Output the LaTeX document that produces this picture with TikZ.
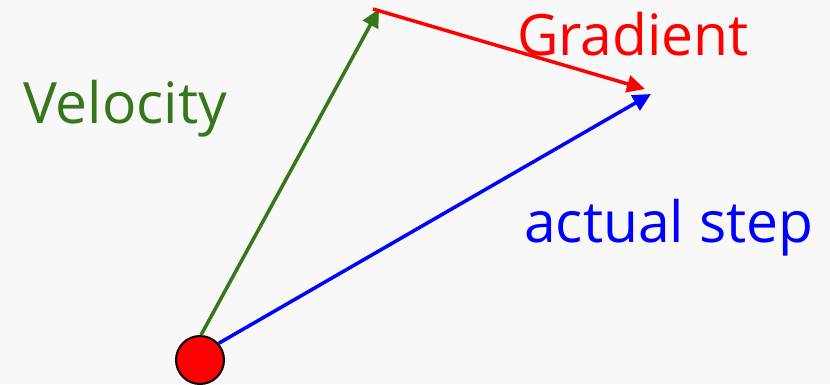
\documentclass[tikz,border=0pt]{standalone}
\usepackage{fontspec}
\setmainfont{Open Sans}
\usetikzlibrary{arrows.meta}
\definecolor{bg}{HTML}{F8F8F8}
\definecolor{vgreen}{HTML}{38761D}
\begin{document}
\begin{tikzpicture}[x=1pt,y=-1pt,
  vec/.style={line width=3.5pt,-{Triangle[length=18pt,width=17pt]}},
  lbl/.style={anchor=base west,inner sep=0pt,font=\fontsize{57}{60}\selectfont}]
\fill[bg] (0,0) rectangle (830,384);
\useasboundingbox (0,0) rectangle (830,384);
\node[circle,draw=black,line width=2pt,fill=red,minimum size=48pt,inner sep=0pt] (ball) at (200,360) {};
\coordinate (vtip) at (379,9);
\coordinate (gstart) at (373,9);
\coordinate (gtip) at (645,89);
\coordinate (stip) at (651,94);
\draw[vec,vgreen] (ball.north) ++(1,0) coordinate (vs) -- (vtip);
\draw[vec,red] (gstart) -- (gtip);
\draw[vec,blue] (ball.north east) ++(1,1) coordinate (bs) -- (stip);
\node[lbl,text=vgreen] (velocity) at (23,123) {Velocity};
\node[lbl,text=red] (gradient) at (517,55) {Gradient};
\node[lbl,text=blue] (actual) at (524,242) {actual step};
\end{tikzpicture}
\end{document}
